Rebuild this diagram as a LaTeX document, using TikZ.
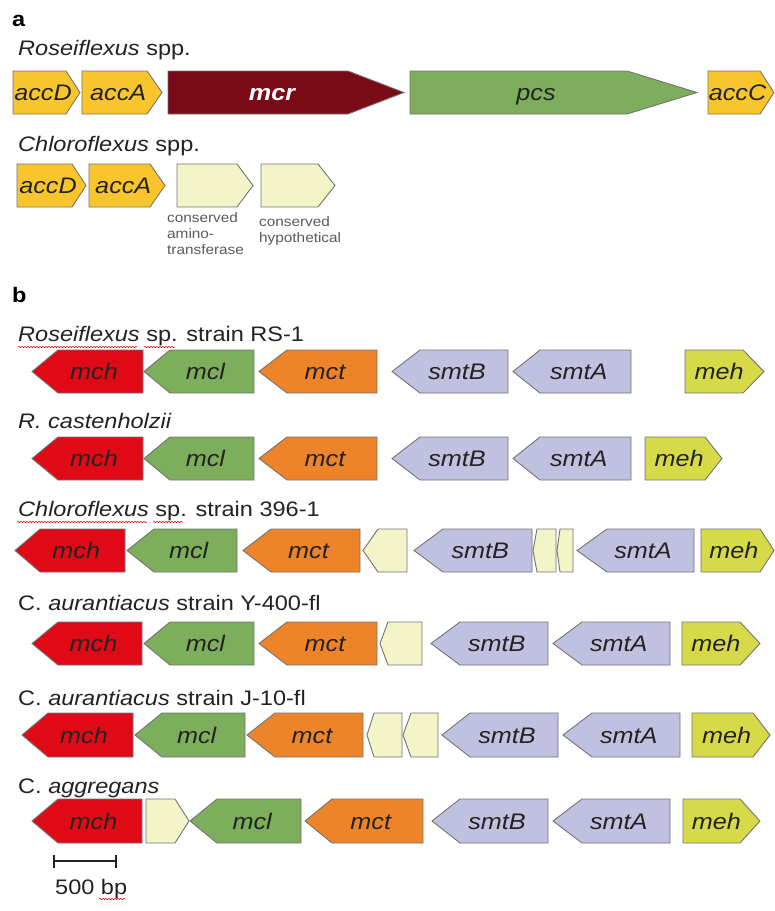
\documentclass[tikz,border=0pt]{standalone}
\usepackage{fontspec}
\setmainfont{Liberation Sans}[FakeStretch=1.12]
\usetikzlibrary{decorations.pathmorphing,arrows.meta}

\definecolor{accyel}{HTML}{F8C62C}
\definecolor{mcrred}{HTML}{7A0A16}
\definecolor{pcsgrn}{HTML}{7EAE5D}
\definecolor{conscream}{HTML}{F3F4C8}
\definecolor{mchred}{HTML}{E00A17}
\definecolor{mclgrn}{HTML}{7DAE5B}
\definecolor{mctorg}{HTML}{EE8429}
\definecolor{smtlav}{HTML}{C0C1E0}
\definecolor{mehyel}{HTML}{D7DA48}
\definecolor{txtgray}{HTML}{222222}

% gene pointing right: name, left, body end, tip, fill style, label
\newcommand{\fwdgene}[6]{%
  \draw[genebox,#5] (#2,\yt) -- (#3,\yt) -- (#4,{(\yt+\yb)/2}) -- (#3,\yb) -- (#2,\yb) -- cycle;
  \node[genelab] (#1) at ({(2*#2+#3+#4)/4},{(\yt+\yb)/2}) {#6};}
% gene pointing left: name, tip, body start, right end, fill style, label
\newcommand{\revgene}[6]{%
  \draw[genebox,#5] (#2,{(\yt+\yb)/2}) -- (#3,\yt) -- (#4,\yt) -- (#4,\yb) -- (#3,\yb) -- cycle;
  \node[genelab] (#1) at ({(#2+#3+2*#4)/4},{(\yt+\yb)/2}) {#6};}

\begin{document}
\begin{tikzpicture}[x=1pt,y=-1pt,
  genebox/.style={draw=black!55, line width=0.9pt},
  genelab/.style={inner sep=0pt, text=txtgray, font=\fontsize{22.5}{26}\selectfont\itshape,
    text height=16pt, text depth=0pt},
  title/.style={anchor=base west, inner sep=0pt, text=txtgray, font=\fontsize{21}{25}\selectfont},
  panel/.style={anchor=base west, inner sep=0pt, font=\fontsize{21}{25}\selectfont\bfseries},
  small/.style={anchor=north west, inner sep=0pt, align=left, text=black!65,
    font=\fontsize{13.7}{16}\selectfont},
  squiggle/.style={red!85!black, line width=0.5pt, decorate,
    decoration={snake, amplitude=0.7pt, segment length=3pt}},
  accgene/.style={fill=accyel}, mcrgene/.style={fill=mcrred}, pcsgene/.style={fill=pcsgrn},
  consgene/.style={fill=conscream}, mchgene/.style={fill=mchred}, mclgene/.style={fill=mclgrn},
  mctgene/.style={fill=mctorg}, smtgene/.style={fill=smtlav}, mehgene/.style={fill=mehyel}]
\useasboundingbox (0,0) rectangle (775,911);

% panel a
\node[panel] (pa) at (12,26) {a};
\node[title] (ta1) at (18,55) {\textit{Roseiflexus} spp.};
\def\yt{71}\def\yb{114}
\fwdgene{a1accD}{13}{66}{80}{accgene}{accD}
\fwdgene{a1accA}{82}{147}{162}{accgene}{accA}
\fwdgene{a1mcr}{168}{348}{404}{mcrgene}{\textcolor{white}{\bfseries mcr}}
\fwdgene{a1pcs}{410}{627}{697}{pcsgene}{pcs}
\fwdgene{a1accC}{708}{760}{774}{accgene}{accC}

\node[title] (ta2) at (18,151) {\textit{Chloroflexus} spp.};
\def\yt{164}\def\yb{207}
\fwdgene{a2accD}{17}{72}{86}{accgene}{accD}
\fwdgene{a2accA}{89}{150}{165}{accgene}{accA}
\fwdgene{a2cons1}{177}{237}{253}{consgene}{}
\fwdgene{a2cons2}{261}{318}{335}{consgene}{}
\node[small] (lcons1) at (167,212) {conserved\\amino-\\transferase};
\node[small] (lcons2) at (259,216) {conserved\\hypothetical};

% panel b
\node[panel] (pb) at (12,302) {b};

\node[title] (tb1) at (18,341) {\textit{Roseiflexus} sp. strain RS-1};
\draw[squiggle] (18,347) -- (137,347);
\draw[squiggle] (144,347) -- (175,347);
\def\yt{350}\def\yb{393}
\revgene{b1mch}{32}{58}{143}{mchgene}{mch}
\revgene{b1mcl}{144}{170}{254}{mclgene}{mcl}
\revgene{b1mct}{259}{287}{377}{mctgene}{mct}
\revgene{b1smtB}{392}{420}{508}{smtgene}{smtB}
\revgene{b1smtA}{513}{540}{631}{smtgene}{smtA}
\fwdgene{b1meh}{685}{743}{764}{mehgene}{meh}

\node[title] (tb2) at (18,428) {\textit{R. castenholzii}};
\def\yt{437}\def\yb{480}
\revgene{b2mch}{32}{58}{143}{mchgene}{mch}
\revgene{b2mcl}{144}{170}{254}{mclgene}{mcl}
\revgene{b2mct}{259}{287}{377}{mctgene}{mct}
\revgene{b2smtB}{392}{420}{508}{smtgene}{smtB}
\revgene{b2smtA}{513}{540}{631}{smtgene}{smtA}
\fwdgene{b2meh}{645}{705}{722}{mehgene}{meh}

\node[title] (tb3) at (18,516) {\textit{Chloroflexus} sp. strain 396-1};
\draw[squiggle] (17,522) -- (147,522);
\draw[squiggle] (153,522) -- (183,522);
\def\yt{529}\def\yb{572}
\revgene{b3mch}{15}{40}{125}{mchgene}{mch}
\revgene{b3mcl}{127}{154}{237}{mclgene}{mcl}
\revgene{b3mct}{243}{271}{360}{mctgene}{mct}
\revgene{b3cons1}{363}{378}{407}{consgene}{}
\revgene{b3smtB}{414}{443}{532}{smtgene}{smtB}
\revgene{b3cons2}{533}{537}{556}{consgene}{}
\revgene{b3cons3}{557}{560}{573}{consgene}{}
\revgene{b3smtA}{577}{607}{694}{smtgene}{smtA}
\fwdgene{b3meh}{701}{760}{774}{mehgene}{meh}

\node[title] (tb4) at (18,610) {C. \textit{aurantiacus} strain Y-400-fl};
\def\yt{622}\def\yb{665}
\revgene{b4mch}{32}{58}{142}{mchgene}{mch}
\revgene{b4mcl}{144}{170}{254}{mclgene}{mcl}
\revgene{b4mct}{259}{287}{377}{mctgene}{mct}
\revgene{b4cons1}{380}{388}{422}{consgene}{}
\revgene{b4smtB}{431}{460}{548}{smtgene}{smtB}
\revgene{b4smtA}{553}{582}{670}{smtgene}{smtA}
\fwdgene{b4meh}{682}{740}{760}{mehgene}{meh}

\node[title] (tb5) at (18,705) {C. \textit{aurantiacus} strain J-10-fl};
\def\yt{713}\def\yb{757}
\revgene{b5mch}{22}{48}{133}{mchgene}{mch}
\revgene{b5mcl}{135}{162}{245}{mclgene}{mcl}
\revgene{b5mct}{247}{275}{363}{mctgene}{mct}
\revgene{b5cons1}{367}{374}{402}{consgene}{}
\revgene{b5cons2}{403}{411}{438}{consgene}{}
\revgene{b5smtB}{442}{470}{558}{smtgene}{smtB}
\revgene{b5smtA}{563}{592}{680}{smtgene}{smtA}
\fwdgene{b5meh}{692}{753}{770}{mehgene}{meh}

\node[title] (tb6) at (18,793) {C. \textit{aggregans}};
\def\yt{799}\def\yb{843}
\revgene{b6mch}{32}{58}{142}{mchgene}{mch}
\fwdgene{b6cons1}{146}{175}{189}{consgene}{}
\revgene{b6mcl}{190}{217}{301}{mclgene}{mcl}
\revgene{b6mct}{305}{332}{423}{mctgene}{mct}
\revgene{b6smtB}{432}{460}{548}{smtgene}{smtB}
\revgene{b6smtA}{553}{582}{670}{smtgene}{smtA}
\fwdgene{b6meh}{683}{740}{760}{mehgene}{meh}

% scale bar
\coordinate (sbl) at (53,861);
\coordinate (sbr) at (117,861);
\draw[line width=1.6pt, {Bar[width=13pt]}-{Bar[width=13pt]}, txtgray] (sbl) -- (sbr);
\node[title] (sbtext) at (55,894) {500 bp};
\draw[squiggle] (99,899) -- (125,899);
\end{tikzpicture}
\end{document}
